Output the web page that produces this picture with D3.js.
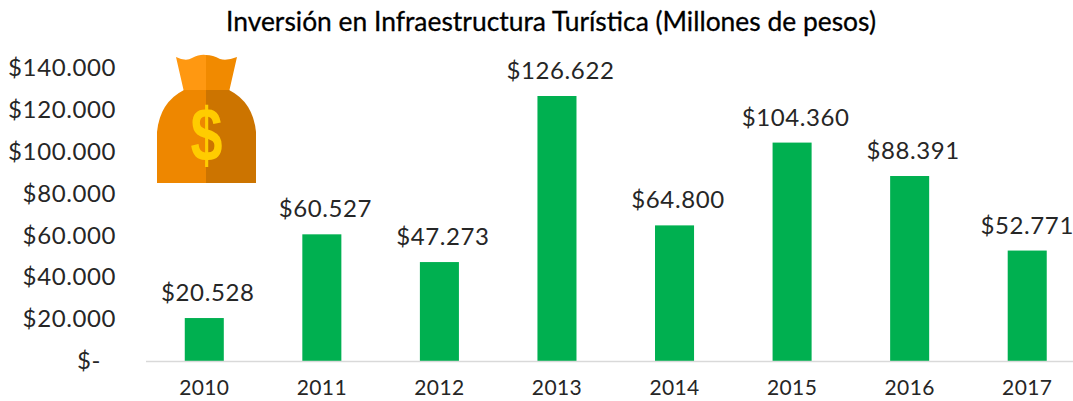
<!DOCTYPE html>
<html>
<head>
<meta charset="utf-8">
<script src="https://cdn.jsdelivr.net/npm/d3@7"></script>
<style>
body { margin: 0; background: #fff; }
text { font-family: Lato, "Open Sans", sans-serif; fill: #262626; }
</style>
</head>
<body>
<script>
const years = ['2010', '2011', '2012', '2013', '2014', '2015', '2016', '2017']
const inversion = [20528, 60527, 47273, 126622, 64800, 104360, 88391, 52771]
const barLabels = ['$20.528', '$60.527', '$47.273', '$126.622', '$64.800', '$104.360', '$88.391', '$52.771']
const yTicks = [0, 20000, 40000, 60000, 80000, 100000, 120000, 140000]
const yTickLabels = ['$-', '$20.000', '$40.000', '$60.000', '$80.000', '$100.000', '$120.000', '$140.000']

const m = { width: 1073, height: 401 }

const svg = d3.select('body').append('svg')
    .attr('width', m.width)
    .attr('height', m.height)
    .style('display', 'block')

const x = d3.scaleBand().domain(years).range([145.5, 1086]).paddingInner(0.668).paddingOuter(0.334)
const y = d3.scaleLinear().domain([0, 140000]).range([361, 68])

// title
svg.append('text')
    .attr('x', 551)
    .attr('y', 31)
    .attr('text-anchor', 'middle')
    .attr('font-size', 26.4)
    .attr('stroke', '#000')
    .attr('stroke-width', 0.3)
    .style('fill', '#000')
    .text('Inversión en Infraestructura Turística (Millones de pesos)')

// y axis, labels only
const yAxis = svg.append('g')
    .attr('transform', 'translate(116,0)')
    .call(d3.axisLeft(y).tickValues(yTicks).tickSize(0).tickPadding(0)
        .tickFormat((d, i) => yTickLabels[i]))
yAxis.select('.domain').remove()
yAxis.selectAll('text')
    .attr('font-size', 24)
    .attr('letter-spacing', 0.6)
    .attr('dx', d => d === 0 ? -15 : 0)
    .style('font-family', 'Lato, sans-serif')

// bars
svg.selectAll('.bar')
    .data(inversion)
    .enter()
    .append('rect')
        .attr('class', 'bar')
        .attr('x', (d, i) => x(years[i]))
        .attr('y', d => y(d))
        .attr('width', x.bandwidth())
        .attr('height', d => y(0) - y(d))
        .attr('fill', '#00b050')

// x axis
const xAxis = svg.append('g')
    .attr('transform', 'translate(0,361)')
    .call(d3.axisBottom(x).tickSize(0).tickPadding(19))
xAxis.select('.domain').attr('stroke', '#d9d9d9').attr('stroke-width', 1.5)
xAxis.selectAll('text')
    .attr('font-size', 21)
    .attr('letter-spacing', 0.4)
    .style('font-family', 'Lato, sans-serif')

// value labels, the last one stays inside the page
svg.selectAll('.label')
    .data(inversion)
    .enter()
    .append('text')
        .attr('class', 'label')
        .attr('x', (d, i) => x(years[i]) + x.bandwidth() / 2 + (i < 7 ? 3.5 : 0))
        .attr('y', d => y(d) - 17)
        .attr('text-anchor', 'middle')
        .attr('font-size', 24)
        .attr('letter-spacing', 0.6)
        .text((d, i) => barLabels[i])

// money bag icon
const bag = svg.append('g')
bag.append('path').attr('fill', '#ff9811')
    .attr('d', 'M176,57 Q186,62 192,58 Q200,54 206,55 L206,92 L184,92 Z')
bag.append('path').attr('fill', '#f18a00')
    .attr('d', 'M206,55 Q213,55 220,59 Q227,61 237,57 L229,92 L206,92 Z')
bag.append('path').attr('fill', '#ee8700')
    .attr('d', 'M184,90 L206,90 L206,183 L157,183 L157,132 Q160,102 184,90 Z')
bag.append('path').attr('fill', '#cc7400')
    .attr('d', 'M206,90 L229,90 Q253,102 256,132 L256,183 L206,183 Z')
bag.append('text')
    .attr('transform', 'translate(206.5,161) scale(0.9,1.2)')
    .attr('text-anchor', 'middle')
    .attr('font-size', 64)
    .attr('font-weight', 700)
    .style('font-family', 'Liberation Sans, sans-serif')
    .style('fill', '#ffcc00')
    .text('$')
</script>
</body>
</html>
